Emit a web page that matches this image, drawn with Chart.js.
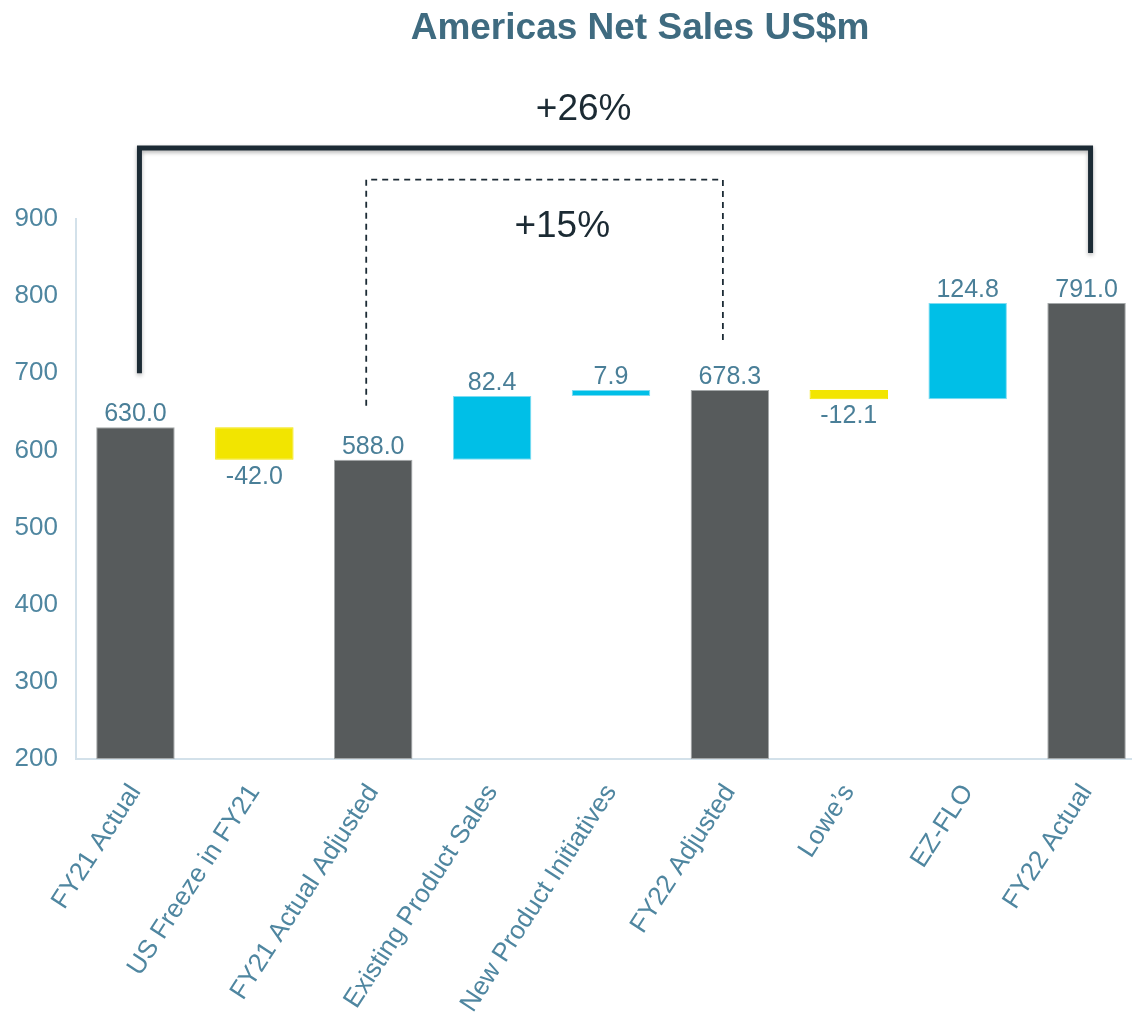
<!DOCTYPE html>
<html>
<head>
<meta charset="utf-8">
<script src="https://cdn.jsdelivr.net/npm/chart.js@4.4.1/dist/chart.umd.min.js"></script>
<style>
html, body { margin: 0; padding: 0; background: #fff; overflow: hidden; }
#wrap { position: relative; width: 1146px; height: 1013px; }
#title { position: absolute; left: 0; top: 6px; width: 1280px; text-align: center;
         font: bold 37px "Liberation Sans", Arial, sans-serif; color: #3f6b80; }
</style>
</head>
<body>
<div id="wrap">
  <div id="title">Americas Net Sales US$m</div>
  <canvas id="waterfallChart" width="1146" height="1013"></canvas>
</div>
<script>
const categories = ['FY21 Actual', 'US Freeze in FY21', 'FY21 Actual Adjusted', 'Existing Product Sales',
    'New Product Initiatives', 'FY22 Adjusted', 'Lowe\u2019s', 'EZ-FLO', 'FY22 Actual'];
const values = [630.0, -42.0, 588.0, 82.4, 7.9, 678.3, -12.1, 124.8, 791.0];
const isTotal = [true, false, true, false, false, true, false, false, true];
const yMin = 200;
const yMax = 900;
const yStep = 100;
const growthLabels = ['+26%', '+15%'];

const GREY = '#575b5c', CYAN = '#00bfe7', YELLOW = '#f2e500';
const LABEL_COLOR = '#4a7f98';
const FONT = '"Liberation Sans", Arial, sans-serif';

// waterfall: totals stand on the axis, deltas float from the running total
let running = 0;
const ranges = values.map((v, i) => {
    if (isTotal[i]) { running = v; return [yMin, v]; }
    const r = [running, running + v];
    running += v;
    return r;
});
const barColors = values.map((v, i) => isTotal[i] ? GREY : (v >= 0 ? CYAN : YELLOW));
const borderColors = values.map((v, i) => isTotal[i] ? '#a4a8a9' : (v >= 0 ? '#7fdcf2' : YELLOW));

const valueLabels = {
    id: 'valueLabels',
    afterDatasetsDraw(chart) {
        const { ctx } = chart;
        const meta = chart.getDatasetMeta(0);
        ctx.save();
        ctx.font = '25px ' + FONT;
        ctx.fillStyle = LABEL_COLOR;
        ctx.textAlign = 'center';
        ctx.textBaseline = 'alphabetic';
        meta.data.forEach((bar, i) => {
            const top = Math.min(bar.y, bar.base);
            const bottom = Math.max(bar.y, bar.base);
            const txt = values[i].toFixed(1);
            if (values[i] < 0) ctx.fillText(txt, bar.x, bottom + 24);
            else ctx.fillText(txt, bar.x, top - 6);
        });
        ctx.restore();
    }
};

// growth brackets drawn above the bars
const brackets = [
    { from: 0, to: 8, top: 992, leftEnd: 700, rightEnd: 856, dx: 4, dash: [], width: 5, text: growthLabels[0], tx: 3.77, ty: 1041 },
    { from: 2, to: 5, top: 951, leftEnd: 658, rightEnd: 739, dx: -7, dash: [6, 5], width: 1.8, text: growthLabels[1], tx: 3.59, ty: 890 }
];

const bracketPlugin = {
    id: 'brackets',
    afterDraw(chart) {
        const { ctx, scales: { x, y } } = chart;
        ctx.save();
        brackets.forEach(b => {
            const x1 = x.getPixelForValue(b.from) + b.dx;
            const x2 = x.getPixelForValue(b.to) + b.dx;
            ctx.strokeStyle = '#1c2b35';
            ctx.lineWidth = b.width;
            ctx.setLineDash(b.dash);
            if (!b.dash.length) {
                ctx.shadowColor = 'rgba(0,0,0,0.3)';
                ctx.shadowBlur = 4;
                ctx.shadowOffsetY = 2;
            } else {
                ctx.shadowColor = 'transparent';
            }
            ctx.beginPath();
            ctx.moveTo(x1, y.getPixelForValue(b.leftEnd));
            ctx.lineTo(x1, y.getPixelForValue(b.top));
            ctx.lineTo(x2, y.getPixelForValue(b.top));
            ctx.lineTo(x2, y.getPixelForValue(b.rightEnd));
            ctx.stroke();
            ctx.shadowColor = 'transparent';
            ctx.setLineDash([]);
            ctx.font = '37px ' + FONT;
            ctx.fillStyle = '#1b2a33';
            ctx.textAlign = 'center';
            ctx.textBaseline = 'middle';
            ctx.fillText(b.text, x.getPixelForValue(b.tx), y.getPixelForValue(b.ty));
        });
        ctx.restore();
    }
};

Chart.defaults.font.family = FONT;

new Chart(document.getElementById('waterfallChart'), {
    type: 'bar',
    data: {
        labels: categories,
        datasets: [{
            data: ranges,
            backgroundColor: barColors,
            borderColor: borderColors,
            borderWidth: 1,
            borderSkipped: false,
            categoryPercentage: 1,
            barPercentage: 0.66
        }]
    },
    options: {
        responsive: false,
        animation: false,
        layout: { padding: { top: 219, left: 0, right: 0, bottom: 0 } },
        plugins: { legend: { display: false }, tooltip: { enabled: false }, title: { display: false } },
        scales: {
            x: {
                grid: { display: false, drawTicks: false },
                border: { display: true, color: '#d3e1ea', width: 2 },
                ticks: { color: '#4f86a0', font: { size: 26 }, autoSkip: false, maxRotation: 57, minRotation: 57, padding: 20 },
                afterFit(scale) { scale.height = 254; }
            },
            y: {
                min: yMin,
                max: yMax,
                grid: { display: false, drawTicks: false },
                border: { display: true, color: '#d3e1ea', width: 2 },
                ticks: { stepSize: yStep, color: '#4f86a0', font: { size: 26 }, padding: 18 },
                afterFit(scale) { scale.width = 76; }
            }
        }
    },
    plugins: [valueLabels, bracketPlugin]
});
</script>
</body>
</html>
